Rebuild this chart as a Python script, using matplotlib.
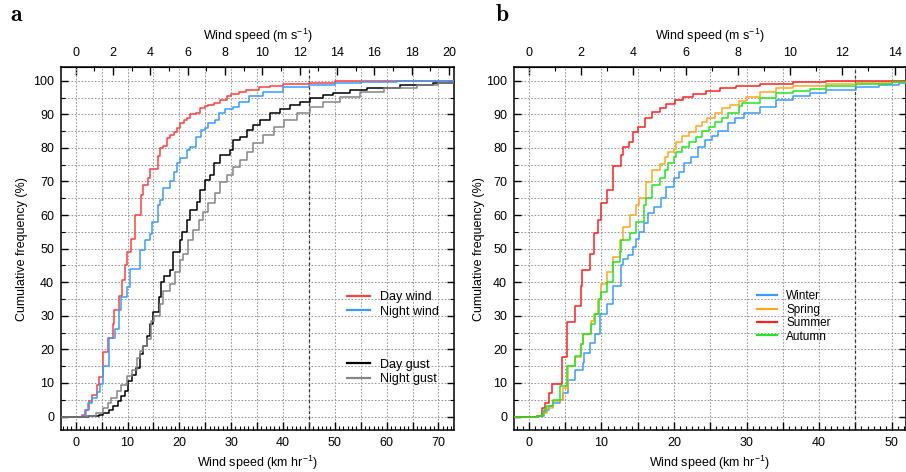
import matplotlib
matplotlib.use("Agg")
import matplotlib.pyplot as plt
from matplotlib.ticker import MultipleLocator, FuncFormatter, FixedLocator
from matplotlib.lines import Line2D

plt.rcParams['font.family'] = ['Liberation Sans', 'DejaVu Sans']
plt.rcParams['mathtext.fontset'] = 'custom'
plt.rcParams['mathtext.rm'] = 'Liberation Sans'
plt.rcParams['mathtext.it'] = 'Liberation Sans:italic'
plt.rcParams['mathtext.bf'] = 'Liberation Sans:bold'

# ---------------- data: panel a (km/h, cumulative %) ----------------
day_wind_x = [0, 1.2, 1.8, 2.6, 3.2, 4.1, 4.5, 5.2, 6.3, 7.2, 7.4, 8.4, 8.9, 9.5, 9.8, 10.6, 11.5, 12.6,
              12.9, 13.9, 14.3, 15.8, 16.3, 16.9, 17.7, 18.2, 19.0, 19.5, 20.1, 20.8, 21.4, 22.1, 23.3,
              24.0, 24.9, 25.6, 26.6, 27.8, 29.1, 30.0, 31.5, 32.9, 35.4, 37.5, 40.0, 45.0, 50.0, 55.0, 60.0]
day_wind_y = [0, 0.5, 2.0, 4.5, 6.3, 9.5, 11.9, 19.3, 23.3, 27.7, 31.7, 36.0, 40.8, 45.0, 49.0, 52.9, 60.0, 66.0,
              69.0, 71.0, 73.6, 77.6, 80.0, 80.5, 82.8, 83.8, 84.8, 86.0, 87.3, 88.3, 88.8, 90.0, 90.4,
              91.8, 92.6, 92.8, 93.4, 94.2, 95.4, 96.0, 96.7, 97.2, 98.0, 98.5, 99.0, 99.4, 99.8, 99.9, 100]

night_wind_x = [0, 1.3, 1.9, 2.4, 3.2, 4.2, 4.6, 5.3, 6.4, 7.6, 8.4, 8.7, 9.8, 10.4, 12.4, 13.3, 14.3, 14.8,
                15.8, 16.3, 16.9, 18.1, 19.0, 19.5, 20.1, 21.4, 22.1, 23.3, 24.1, 24.9, 25.6, 26.9, 27.7,
                28.8, 30.3, 31.6, 33.5, 36.1, 40.0, 45.0, 50.0, 55.0, 62.0]
night_wind_y = [0, 0.3, 2.0, 4.0, 5.4, 7.4, 9.6, 15.0, 23.5, 26.2, 31.7, 35.6, 38.6, 44.0, 49.7, 52.5, 54.5, 58.0,
                63.0, 64.4, 68.0, 70.0, 72.9, 75.4, 76.9, 79.3, 80.3, 83.3, 85.3, 85.8, 87.3, 88.3, 90.3,
                91.5, 92.3, 93.7, 95.4, 96.7, 98.0, 98.8, 99.4, 99.7, 99.9]

day_gust_x = [0, 2.4, 4.4, 5.3, 6.5, 7.2, 8.2, 8.8, 9.5, 10.1, 10.8, 11.6, 12.4, 13.0, 13.8, 14.3, 14.9, 16.1,
              16.5, 17.0, 18.1, 18.8, 20.1, 20.5, 21.4, 22.1, 23.4, 24.0, 25.0, 25.9, 26.6, 27.9, 29.8,
              30.4, 31.7, 33.0, 34.3, 35.6, 37.5, 39.4, 41.4, 43.3, 45.2, 47.8, 49.7, 53.0, 56.2, 62.6, 69.0]
day_gust_y = [0, 0.2, 0.5, 1.0, 2.0, 3.0, 4.5, 6.0, 7.5, 10.5, 12.5, 14.5, 18.5, 21.0, 24.0, 27.5, 31.0, 35.5,
              40.0, 42.0, 43.5, 49.0, 52.5, 55.0, 58.5, 61.5, 64.0, 67.5, 70.4, 72.0, 75.4, 77.9, 79.4,
              82.3, 83.3, 85.3, 86.8, 88.3, 90.3, 91.5, 92.8, 93.8, 94.8, 95.7, 96.4, 97.2, 97.9, 98.7, 99.3]

night_gust_x = [0, 2.1, 4.0, 5.3, 6.3, 6.9, 7.9, 8.8, 9.8, 10.8, 11.9, 12.4, 13.0, 13.8, 14.6, 15.1, 16.3, 16.9,
                18.1, 19.1, 20.1, 20.7, 21.7, 22.7, 23.7, 24.6, 25.6, 26.9, 27.9, 29.2, 30.4, 31.7, 33.0,
                34.3, 36.2, 38.2, 40.1, 42.7, 45.2, 47.8, 51.0, 54.9, 59.4, 65.8, 70.0]
night_gust_y = [0, 0.2, 1.0, 2.5, 4.0, 5.5, 7.5, 9.5, 12.0, 14.0, 17.5, 19.5, 21.0, 23.0, 28.5, 30.0, 33.5, 37.5,
                39.5, 43.0, 46.5, 48.5, 52.5, 55.5, 58.5, 61.0, 63.5, 66.5, 69.9, 71.9, 74.4, 76.4, 78.9,
                81.4, 83.8, 86.3, 88.3, 90.3, 92.3, 93.8, 95.2, 96.7, 97.7, 98.7, 99.3]

# ---------------- data: panel b (km/h, cumulative %) ----------------
winter_x = [0, 1.05, 2.1, 2.8, 3.3, 4.3, 4.7, 5.4, 6.3, 7.4, 7.6, 8.4, 9.1, 9.8, 10.7, 11.6, 12.7, 13.0, 13.7,
            14.3, 14.8, 15.2, 15.9, 16.4, 17.3, 18.2, 18.9, 20.0, 20.7, 21.4, 22.3, 23.3, 24.3, 25.2, 26.1,
            27.5, 28.4, 29.7, 31.8, 34.1, 36.4, 38.7, 41.0, 45.1, 48.3, 51.0]
winter_y = [0, 0.3, 2.0, 3.0, 4.0, 5.0, 7.0, 11.0, 14.0, 16.0, 19.0, 22.0, 24.5, 30.5, 33.5, 39.0, 45.0, 47.0, 48.0,
            50.5, 53.0, 55.0, 57.5, 60.5, 62.5, 65.0, 68.4, 70.9, 72.9, 75.4, 77.2, 80.3, 82.3, 83.6, 85.1,
            87.5, 88.8, 90.3, 92.3, 94.3, 95.4, 96.2, 97.2, 98.2, 98.7, 99.2]

spring_x = [0, 1.05, 1.75, 2.5, 3.35, 4.3, 4.7, 5.4, 6.3, 7.2, 7.5, 8.5, 8.9, 9.5, 9.9, 10.7, 11.6, 12.5, 12.9,
            13.9, 14.8, 15.2, 16.1, 17.0, 18.0, 18.8, 19.1, 20.0, 20.3, 21.1, 22.1, 23.0, 23.9, 24.5, 25.7,
            26.6, 27.7, 28.9, 29.9, 31.8, 34.1, 36.4, 41.0, 45.1, 50.0]
spring_y = [0, 0.3, 1.0, 2.5, 4.5, 5.0, 8.5, 15.0, 17.8, 21.5, 24.5, 28.5, 30.5, 35.0, 39.5, 43.0, 47.5, 52.5, 56.5,
            60.0, 63.0, 65.0, 69.9, 73.4, 75.2, 77.2, 78.9, 79.8, 81.8, 83.6, 84.6, 86.5, 87.8, 89.0, 90.5,
            91.8, 92.8, 94.0, 95.3, 96.7, 97.7, 98.3, 98.9, 99.3, 99.7]

summer_x = [0, 1.05, 1.8, 2.2, 2.75, 3.2, 4.5, 5.3, 6.3, 7.2, 7.3, 8.4, 8.9, 9.5, 9.9, 10.7, 11.6, 12.7, 13.0,
            13.8, 14.4, 15.0, 16.0, 17.0, 18.0, 18.9, 20.1, 21.2, 22.6, 24.4, 26.3, 28.6, 31.8, 36.4, 40.9, 46.0]
summer_y = [0, 0.3, 2.5, 4.0, 7.1, 9.7, 17.8, 28.2, 32.9, 38.8, 43.6, 48.5, 54.6, 58.5, 63.5, 67.5, 74.6, 77.9, 80.2,
            81.8, 84.8, 86.3, 88.8, 90.8, 91.8, 93.1, 94.3, 95.2, 96.0, 97.0, 97.7, 98.4, 99.0, 99.5, 99.8, 100]

autumn_x = [0, 1.05, 2.0, 2.4, 3.3, 4.3, 5.3, 6.3, 7.2, 7.5, 8.5, 9.1, 9.7, 10.0, 10.7, 11.6, 12.5, 12.75, 13.9,
            14.8, 15.8, 16.1, 17.0, 18.0, 18.8, 19.1, 20.0, 20.3, 21.1, 22.1, 23.0, 23.9, 24.8, 25.7, 26.6,
            27.5, 28.9, 29.4, 31.8, 34.1, 36.4, 38.7, 41.0, 45.1, 50.0]
autumn_y = [0, 0.3, 1.5, 3.0, 5.0, 9.0, 15.0, 18.0, 21.5, 24.5, 27.5, 30.5, 35.0, 37.0, 40.0, 46.0, 49.0, 52.5, 54.7,
            58.0, 63.0, 65.0, 68.9, 70.9, 73.4, 75.4, 77.2, 78.8, 80.3, 81.8, 83.3, 85.1, 86.3, 87.8, 88.8,
            90.3, 92.5, 93.3, 94.8, 96.2, 97.0, 97.5, 98.3, 99.0, 99.5]

top_ticks_a = [0, 2, 4, 6, 8, 10, 12, 14, 16, 18, 20]
top_ticks_b = [0, 2, 4, 6, 8, 10, 12, 14]

series_a = [("Day wind", day_wind_x, day_wind_y, "#ff4040"),
            ("Night wind", night_wind_x, night_wind_y, "#3a9bff"),
            ("Day gust", day_gust_x, day_gust_y, "#000000"),
            ("Night gust", night_gust_x, night_gust_y, "#858585")]
series_b = [("Winter", winter_x, winter_y, "#3a9bff"),
            ("Spring", spring_x, spring_y, "#ffa820"),
            ("Summer", summer_x, summer_y, "#ff2020"),
            ("Autumn", autumn_x, autumn_y, "#22e622")]

THRESHOLD_KMH = 45
KMH_PER_MS = 3.6

fig = plt.figure(figsize=(9.06, 4.72), dpi=100)
ax_a = fig.add_axes([61/906, 42/472, 393/906, 362.7/472])
ax_b = fig.add_axes([514/906, 42/472, 391.5/906, 362.7/472])

grid_kw = dict(color="#9a9a9a", linestyle=(0, (1.6, 1.6)), linewidth=0.75)


def style_axes(ax, xlim, top_ticks):
    ax.set_xlim(*xlim)
    ax.set_ylim(-4, 104)
    for s in ax.spines.values():
        s.set_linewidth(1.1)
    ax.xaxis.set_major_locator(MultipleLocator(5))
    ax.xaxis.set_minor_locator(MultipleLocator(5 / 6))
    ax.xaxis.set_major_formatter(FuncFormatter(lambda v, p: f"{v:.0f}" if round(v) % 10 == 0 else ""))
    ax.yaxis.set_major_locator(MultipleLocator(10))
    ax.yaxis.set_minor_locator(MultipleLocator(5))
    ax.tick_params(axis="x", which="major", direction="in", length=6, width=1.0,
                   labelsize=9, pad=5, top=False, bottom=True)
    ax.tick_params(axis="x", which="minor", direction="in", length=3, width=0.8,
                   top=False, bottom=True)
    ax.tick_params(axis="y", which="major", direction="in", length=5, width=1.0,
                   labelsize=9, pad=5, left=True, right=True)
    ax.tick_params(axis="y", which="minor", direction="in", length=3, width=0.8,
                   left=True, right=True)
    ax.grid(True, which="major", axis="x", **grid_kw)
    ax.grid(True, which="both", axis="y", **grid_kw)
    ax.set_axisbelow(True)
    ax.axvline(THRESHOLD_KMH, color="#333333", linestyle=(0, (2.2, 2.2)), linewidth=0.9, zorder=1.5)

    sec = ax.secondary_xaxis("top", functions=(lambda v: v / KMH_PER_MS, lambda v: v * KMH_PER_MS))
    sec.xaxis.set_major_locator(FixedLocator(top_ticks))
    sec.xaxis.set_minor_locator(FixedLocator([t + 1 for t in top_ticks[:-1]]))
    sec.tick_params(axis="x", which="major", direction="in", length=6, width=1.0, labelsize=9, pad=6)
    sec.tick_params(axis="x", which="minor", direction="in", length=3, width=0.8)

    ax.set_xlabel("Wind speed (km hr$^{-1}$)", fontsize=9)
    ax.xaxis.set_label_coords(0.5, -0.091)
    ax.xaxis.label.set_va("center")
    ax.set_ylabel("Cumulative frequency (%)", fontsize=9)
    ax.yaxis.label.set_va("center")
    ax.text(0.5, 1.086, "Wind speed (m s$^{-1}$)", transform=ax.transAxes,
            ha="center", va="center", fontsize=9)


def draw(ax, series):
    x0, x1 = ax.get_xlim()
    handles = []
    for name, xs, ys, col in series:
        xx = [x0] + list(xs) + [x1]
        yy = [0] + list(ys) + [ys[-1]]
        ln, = ax.step(xx, yy, where="post", color=col, linewidth=1.1, label=name, zorder=3)
        handles.append(ln)
    return handles


style_axes(ax_a, (-2.84, 73.0), top_ticks_a)
style_axes(ax_b, (-2.06, 51.9), top_ticks_b)
ax_a.yaxis.set_label_coords(-0.099, 0.5)
ax_b.yaxis.set_label_coords(-0.09, 0.5)

ha = draw(ax_a, series_a)
hb = draw(ax_b, series_b)

leg_kw = dict(frameon=False, fontsize=9, handlelength=1.85, handletextpad=0.75,
              borderpad=0, borderaxespad=0, labelspacing=0.2, loc="center left")
leg1 = ax_a.legend(handles=[Line2D([], [], color=h.get_color(), lw=1.6) for h in ha[:2]],
                   labels=[h.get_label() for h in ha[:2]], bbox_to_anchor=(0.728, 0.346), **leg_kw)
ax_a.add_artist(leg1)
ax_a.legend(handles=[Line2D([], [], color=h.get_color(), lw=1.6) for h in ha[2:]],
            labels=[h.get_label() for h in ha[2:]], bbox_to_anchor=(0.728, 0.16), **leg_kw)

leg_kw_b = dict(leg_kw)
leg_kw_b.update(fontsize=8.5, handlelength=1.75, labelspacing=0.12)
ax_b.legend(handles=[Line2D([], [], color=h.get_color(), lw=1.6) for h in hb],
            labels=[h.get_label() for h in hb], bbox_to_anchor=(0.62, 0.313), **leg_kw_b)

fig.text(10/906, 1 - 15/472, r"$\mathbf{a}$", fontsize=17, ha="left", va="center",
         math_fontfamily="cm")
fig.text(495/906, 1 - 15/472, r"$\mathbf{b}$", fontsize=17, ha="left", va="center",
         math_fontfamily="cm")

fig.savefig("out.png", dpi=100)
